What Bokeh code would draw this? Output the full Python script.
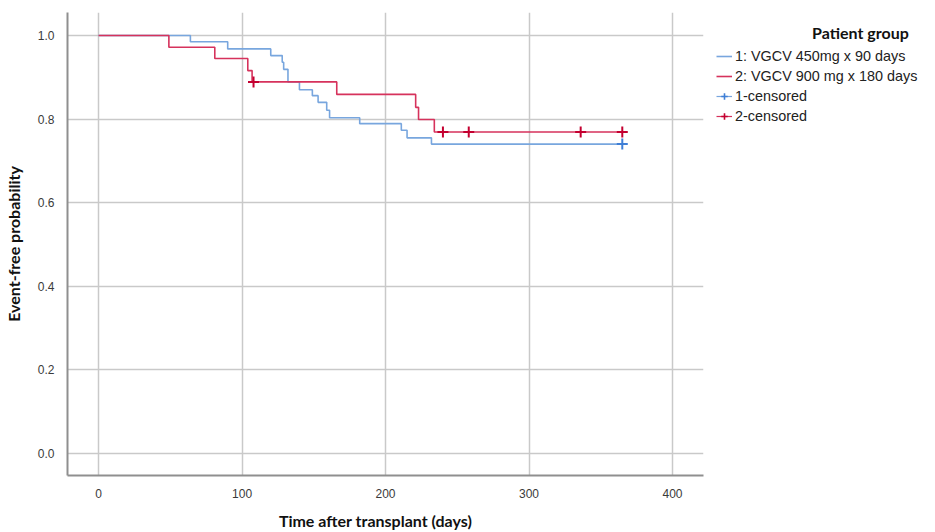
from bokeh.plotting import figure
from bokeh.layouts import row
from bokeh.models import Range1d, Legend, LegendItem, FixedTicker, NumeralTickFormatter
from bokeh.embed import file_html
from bokeh.resources import INLINE

# ---- data ----
g1_time = [0, 64, 90, 120, 128, 129, 132, 140, 149, 153, 159, 161, 182, 211, 215, 232, 365]
g1_surv = [1.0, 0.985, 0.968, 0.952, 0.936, 0.919, 0.889, 0.870, 0.856, 0.840, 0.821, 0.803,
           0.789, 0.773, 0.755, 0.740, 0.740]
g1_cens_time = [365]
g1_cens_surv = [0.740]

g2_time = [0, 49, 81, 104, 107, 166, 221, 223, 234, 365]
g2_surv = [1.0, 0.972, 0.945, 0.916, 0.889, 0.859, 0.828, 0.799, 0.769, 0.769]
g2_cens_time = [108, 240, 258, 336, 365]
g2_cens_surv = [0.889, 0.769, 0.769, 0.769, 0.769]

x_ticks = [0, 100, 200, 300, 400]
y_ticks = [0.0, 0.2, 0.4, 0.6, 0.8, 1.0]

labels = ["1: VGCV 450mg x 90 days", "2: VGCV 900 mg x 180 days", "1-censored", "2-censored"]
legend_title = "Patient group"
x_title = "Time after transplant (days)"
y_title = "Event-free probability"

blue = "#78a6de"
red = "#d6325c"
blue_c = "#3f7fd6"
red_c = "#c40030"

TITLE_FONT = "Lato"
TITLE_SIZE = "16px"

# ---------------- main plot ----------------
p = figure(width=705, height=532, output_backend="svg", toolbar_location=None,
           x_range=Range1d(-21.65, 421.6), y_range=Range1d(-0.0538, 1.0552),
           min_border_left=58, min_border_right=2, min_border_top=12, min_border_bottom=52)
p.outline_line_color = None
p.background_fill_color = "white"

for g in (p.xgrid, p.ygrid):
    g.grid_line_color = "#c9c9c9"
    g.grid_line_width = 1.5
p.xaxis.ticker = FixedTicker(ticks=x_ticks)
p.yaxis.ticker = FixedTicker(ticks=y_ticks)
p.yaxis.formatter = NumeralTickFormatter(format="0.0")

for ax in (p.xaxis, p.yaxis):
    ax.axis_line_color = "#8f8f8f"
    ax.axis_line_width = 2
    ax.major_tick_line_color = None
    ax.minor_tick_line_color = None
    ax.major_label_text_font = "Liberation Sans"
    ax.major_label_text_font_size = "12px"
    ax.major_label_text_color = "#3a3a3a"
    ax.axis_label_text_font = TITLE_FONT
    ax.axis_label_text_font_style = "bold"
    ax.axis_label_text_font_size = TITLE_SIZE
    ax.axis_label_text_color = "#111111"
p.xaxis.major_label_standoff = 7
p.yaxis.major_label_standoff = 7

p.yaxis.axis_label = y_title
p.yaxis.axis_label_standoff = 12
# trailing em/en space shifts the centred title left, as in the reference
p.xaxis.axis_label = x_title + "\u2003\u2002"
p.xaxis.axis_label_standoff = 10

p.step(g1_time, g1_surv, mode="after", line_color=blue, line_width=1.6)
p.step(g2_time, g2_surv, mode="after", line_color=red, line_width=1.6)
p.scatter(g1_cens_time, g1_cens_surv, marker="cross", size=11, line_color=blue_c, line_width=2)
p.scatter(g2_cens_time, g2_cens_surv, marker="cross", size=11, line_color=red_c, line_width=2)

# ---------------- legend panel ----------------
lg = figure(width=214, height=532, output_backend="svg", toolbar_location=None, title=None,
            x_axis_type=None, y_axis_type=None,
            x_range=Range1d(0, 1), y_range=Range1d(0, 1),
            min_border_left=0, min_border_right=0, min_border_top=12, min_border_bottom=52)
lg.outline_line_color = None
lg.grid.visible = False

# legend-key renderers (one point each, outside the visible range)
off = [-10]
d1 = lg.line(x=off, y=off, line_color=blue, line_width=1.6)
d2 = lg.line(x=off, y=off, line_color=red, line_width=1.6)
d3l = lg.line(x=off, y=off, line_color=blue, line_width=1.2)
d3m = lg.scatter(x=off, y=off, marker="cross", line_color=blue_c, line_width=1.6)
d4l = lg.line(x=off, y=off, line_color=red, line_width=1.2)
d4m = lg.scatter(x=off, y=off, marker="cross", line_color=red_c, line_width=1.6)

legend = Legend(items=[LegendItem(label=labels[0], renderers=[d1]),
                       LegendItem(label=labels[1], renderers=[d2]),
                       LegendItem(label=labels[2], renderers=[d3l, d3m]),
                       LegendItem(label=labels[3], renderers=[d4l, d4m])],
                location="top_left", orientation="vertical",
                title="\u2003" * 8 + legend_title,
                title_text_font=TITLE_FONT, title_text_font_style="bold",
                title_text_font_size=TITLE_SIZE, title_text_color="#111111",
                title_standoff=4,
                glyph_width=16, glyph_height=20, label_height=20, label_standoff=3,
                spacing=0, padding=0, margin=11,
                border_line_color=None, background_fill_alpha=0,
                label_text_font="Liberation Sans", label_text_font_size="14.4px",
                label_text_color="#222222")
lg.add_layout(legend, "center")

open("out.html", "w").write(file_html(row(p, lg), INLINE))
